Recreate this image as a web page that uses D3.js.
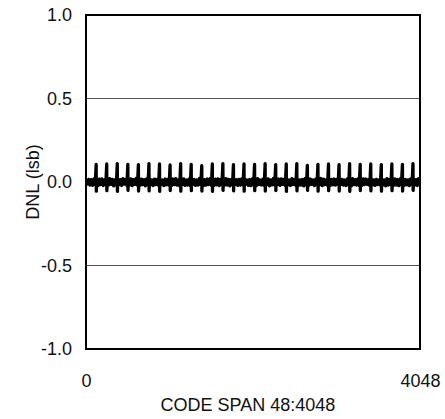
<!DOCTYPE html>
<html>
<head>
<meta charset="utf-8">
<script src="https://cdn.jsdelivr.net/npm/d3@7"></script>
<style>
  html, body { margin: 0; padding: 0; background: #fff; }
  svg { display: block; }
  text { font-family: "Liberation Sans", Arial, sans-serif; fill: #111; }
</style>
</head>
<body>
<svg id="chart" width="445" height="419"></svg>
<script>
// ---- data ----
const yTicks = [-1.0, -0.5, 0.0, 0.5, 1.0];
const xTickLabels = [0, 4048];
const gridValues = [-0.5, 0.0, 0.5];
// spike locations (codes) every major transition
const spikeCodes = [123, 251, 379, 507, 635, 763, 891, 1019, 1147, 1275, 1403, 1531, 1659, 1787, 1915, 2043,
  2171, 2299, 2427, 2555, 2683, 2811, 2939, 3067, 3195, 3323, 3451, 3579, 3707, 3835, 3963];
const spikeHigh = [0.105, 0.108, 0.110, 0.106, 0.104, 0.110, 0.108, 0.102, 0.110, 0.106, 0.098, 0.108, 0.110, 0.104, 0.108, 0.106,
  0.110, 0.104, 0.108, 0.110, 0.100, 0.106, 0.108, 0.104, 0.110, 0.106, 0.108, 0.104, 0.108, 0.106, 0.110];
const spikeLow = [-0.055, -0.052, -0.056, -0.050, -0.054, -0.053, -0.056, -0.051, -0.055, -0.052, -0.054, -0.056, -0.050, -0.053, -0.055, -0.052,
  -0.054, -0.051, -0.056, -0.053, -0.050, -0.055, -0.052, -0.054, -0.056, -0.051, -0.053, -0.055, -0.052, -0.054, -0.050];
// baseline DNL, sampled every 16 codes from 0 to 4048
const baselineStep = 16;
const baseline = [
  0.008,-0.012,0.016,-0.018,0.014,-0.020,0.018,-0.016,0.012,-0.022,0.017,-0.015,0.019,-0.021,0.013,-0.017,
  0.015,-0.019,0.020,-0.014,0.016,-0.023,0.012,-0.018,0.018,-0.016,0.014,-0.021,0.020,-0.013,0.016,-0.020,
  0.013,-0.017,0.019,-0.022,0.015,-0.014,0.021,-0.019,0.012,-0.020,0.017,-0.016,0.014,-0.023,0.018,-0.015,
  0.020,-0.018,0.013,-0.021,0.017,-0.015,0.016,-0.020,0.019,-0.014,0.012,-0.022,0.018,-0.017,0.015,-0.019,
  0.014,-0.021,0.018,-0.016,0.020,-0.019,0.013,-0.023,0.016,-0.015,0.019,-0.020,0.012,-0.018,0.017,-0.022,
  0.019,-0.014,0.015,-0.020,0.013,-0.018,0.021,-0.016,0.017,-0.022,0.014,-0.019,0.018,-0.015,0.020,-0.021,
  0.012,-0.020,0.017,-0.017,0.019,-0.022,0.015,-0.014,0.013,-0.019,0.020,-0.018,0.016,-0.023,0.014,-0.016,
  0.018,-0.015,0.014,-0.021,0.016,-0.019,0.019,-0.017,0.020,-0.013,0.012,-0.020,0.015,-0.022,0.018,-0.018,
  0.016,-0.022,0.020,-0.015,0.012,-0.018,0.017,-0.021,0.014,-0.016,0.019,-0.023,0.013,-0.017,0.021,-0.019,
  0.013,-0.016,0.018,-0.020,0.019,-0.014,0.015,-0.022,0.017,-0.018,0.012,-0.021,0.020,-0.015,0.016,-0.020,
  0.019,-0.020,0.013,-0.018,0.015,-0.023,0.020,-0.016,0.014,-0.019,0.018,-0.014,0.012,-0.022,0.017,-0.017,
  0.014,-0.018,0.021,-0.022,0.017,-0.015,0.013,-0.020,0.019,-0.021,0.016,-0.017,0.018,-0.019,0.015,-0.014,
  0.020,-0.015,0.016,-0.019,0.012,-0.021,0.018,-0.017,0.015,-0.023,0.020,-0.016,0.014,-0.018,0.019,-0.022,
  0.015,-0.021,0.019,-0.016,0.018,-0.014,0.014,-0.022,0.021,-0.018,0.013,-0.020,0.016,-0.015,0.012,-0.019,
  0.017,-0.017,0.012,-0.023,0.020,-0.019,0.016,-0.015,0.013,-0.021,0.019,-0.018,0.015,-0.022,0.018,-0.016,
  0.018,-0.020,0.015,-0.017,0.013,-0.022,0.019,-0.014,0.017,-0.019,0.014,-0.021,0.020,-0.012
];

// ---- layout ----
const svg = d3.select("#chart");
const mLeft = 86, mRight = 420, mTop = 15, mBottom = 349;
const fontSize = "18px";

const x = d3.scaleLinear().domain([0, 4048]).range([mLeft, mRight]);
const y = d3.scaleLinear().domain([-1, 1]).range([mBottom, mTop]);

// build series from arrays
const pts = baseline.map((v, i) => ({ c: i * baselineStep, v: v }));
spikeCodes.forEach((c, i) => {
  pts.push({ c: c, v: spikeHigh[i] });
  pts.push({ c: c + 2, v: spikeLow[i] });
});
pts.sort((a, b) => a.c - b.c);

// grid
svg.append("g").selectAll("line").data(gridValues).join("line")
  .attr("x1", mLeft).attr("x2", mRight)
  .attr("y1", d => y(d)).attr("y2", d => y(d))
  .attr("stroke", "#555").attr("stroke-width", 1);

// data line
const clipId = "plotclip";
svg.append("clipPath").attr("id", clipId).append("rect")
  .attr("x", mLeft).attr("y", mTop).attr("width", mRight - mLeft).attr("height", mBottom - mTop);
svg.append("path")
  .datum(pts)
  .attr("clip-path", `url(#${clipId})`)
  .attr("fill", "none")
  .attr("stroke", "#000")
  .attr("stroke-width", 3.3)
  .attr("stroke-linejoin", "round")
  .attr("stroke-linecap", "round")
  .attr("d", d3.line().x(d => x(d.c)).y(d => y(d.v)));

// frame
svg.append("rect")
  .attr("x", mLeft).attr("y", mTop).attr("width", mRight - mLeft).attr("height", mBottom - mTop)
  .attr("fill", "none").attr("stroke", "#000").attr("stroke-width", 2);

// y axis labels (ASCII hyphen for minus)
const fmtY = d => d3.format(".1f")(d).replace("\u2212", "-");
const yAxis = d3.axisLeft(y).tickValues(yTicks).tickFormat(fmtY).tickSize(0).tickPadding(14);
const gy = svg.append("g").attr("transform", `translate(${mLeft},0)`).call(yAxis);
gy.select(".domain").remove();
gy.selectAll("text").style("font-size", fontSize).style("font-family", "'Liberation Sans', Arial, sans-serif").attr("fill", "#111");

// x axis labels
const xAxis = d3.axisBottom(x).tickValues(xTickLabels).tickFormat(d3.format("d")).tickSize(0).tickPadding(25);
const gx = svg.append("g").attr("transform", `translate(0,${mBottom})`).call(xAxis);
gx.select(".domain").remove();
gx.selectAll("text").style("font-size", fontSize).style("font-family", "'Liberation Sans', Arial, sans-serif").attr("fill", "#111");

// axis titles
svg.append("text")
  .attr("x", 248).attr("y", 411)
  .attr("text-anchor", "middle").style("font-size", fontSize)
  .text("CODE SPAN 48:4048");
svg.append("text")
  .attr("transform", `translate(39,${(mTop + mBottom) / 2}) rotate(-90)`)
  .attr("text-anchor", "middle").style("font-size", fontSize)
  .text("DNL (lsb)");
</script>
</body>
</html>
